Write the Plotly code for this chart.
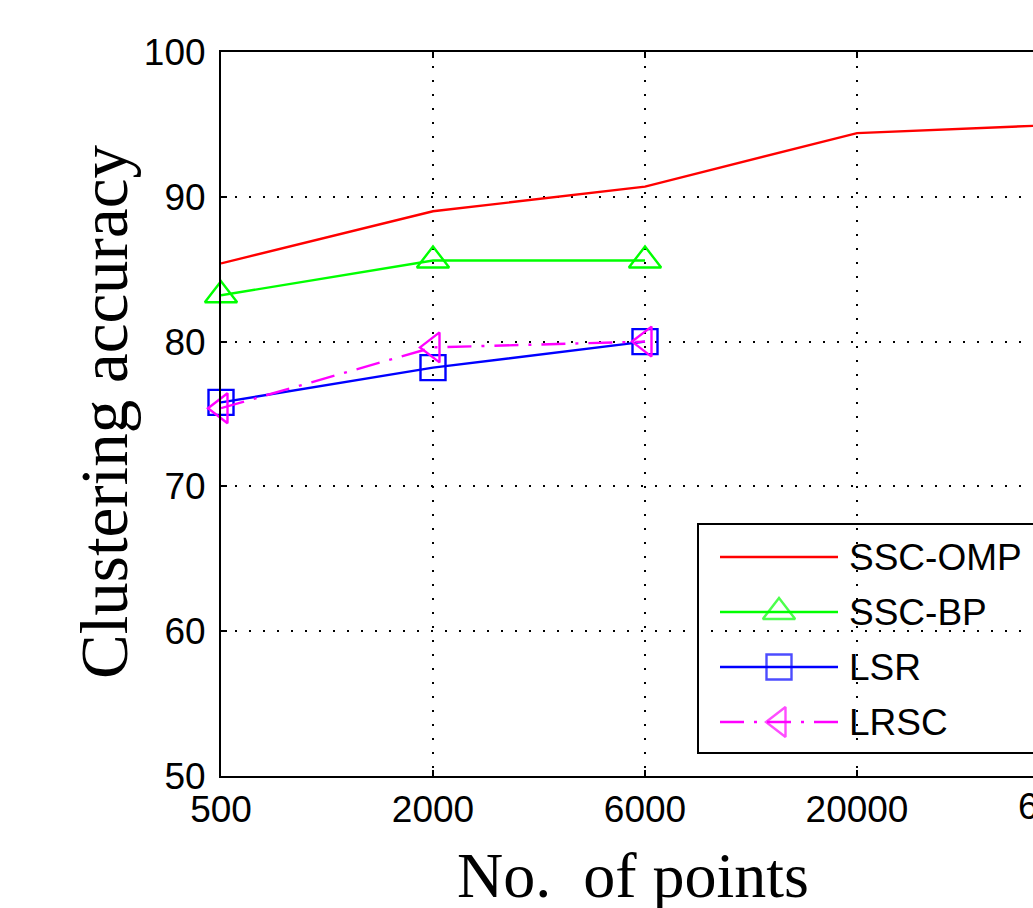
import plotly.graph_objects as go

# ---------------- data ----------------
categories = ["500", "2000", "6000", "20000", "60000"]
ssc_omp = [85.4, 89.0, 90.7, 94.4, 95.0]
ssc_bp = [83.2, 85.6, 85.6]
lsr = [75.8, 78.2, 80.0]
lrsc = [75.4, 79.6, 80.0]
y_ticks = [50, 60, 70, 80, 90, 100]
series_names = ["SSC-OMP", "SSC-BP", "LSR", "LRSC"]
x_title = "No.\u00a0 of points"
y_title = "Clustering accuracy"

# ---------------- layout constants ----------------
W, H = 1033, 908
L, T, B, R = 221, 52, 132, 0
plot_w = W - L - R
plot_h = H - T - B
cat_step_px = 212
x_max = plot_w / cat_step_px

def px_x(px):
    return (px - L) / plot_w

def px_y(py):
    return (H - B - py) / plot_h

TICK_FONT = dict(family="Liberation Sans, Arial, sans-serif", size=37, color="black")
TITLE_FONT = "Liberation Serif, Times New Roman, serif"
LW = 2.4
LRSC_DASH = "24px,10px,3px,10px"

colors = {"SSC-OMP": "#ff0000", "SSC-BP": "#00ff00", "LSR": "#0000ff", "LRSC": "#ff00ff"}
symbols = {"SSC-OMP": None, "SSC-BP": "triangle-up-open", "LSR": "square-open", "LRSC": "triangle-left-open"}
msizes = {"SSC-OMP": 0, "SSC-BP": 28, "LSR": 25, "LRSC": 26}
dashes = {"SSC-OMP": "solid", "SSC-BP": "solid", "LSR": "solid", "LRSC": LRSC_DASH}
values = {"SSC-OMP": ssc_omp, "SSC-BP": ssc_bp, "LSR": lsr, "LRSC": lrsc}

fig = go.Figure()
for name in series_names:
    vals = values[name]
    xs = categories[:len(vals)]
    if symbols[name] is None:
        fig.add_trace(go.Scatter(x=xs, y=vals, mode="lines", name=name,
                                 line=dict(color=colors[name], width=LW),
                                 showlegend=False))
    else:
        fig.add_trace(go.Scatter(x=xs, y=vals, mode="lines+markers", name=name,
                                 line=dict(color=colors[name], width=LW, dash=dashes[name]),
                                 marker=dict(symbol=symbols[name], size=msizes[name],
                                             color=colors[name], line=dict(width=LW, color=colors[name])),
                                 cliponaxis=False, showlegend=False))

# ---------------- hand-drawn MATLAB-style legend ----------------
leg_left, leg_right, leg_top, leg_bottom = 698, 1100, 524, 753
row_y = [557, 612, 667, 722]
sample_x0, sample_x1, marker_x, text_x = 720, 838, 779, 850

shapes = [dict(type="rect", xref="paper", yref="paper",
               x0=px_x(leg_left), x1=px_x(leg_right), y0=px_y(leg_bottom), y1=px_y(leg_top),
               line=dict(color="black", width=2), fillcolor="white", layer="between")]
annotations = []
mk_x, mk_y, mk_sym, mk_col, mk_size = [], [], [], [], []
for name, ry in zip(series_names, row_y):
    shapes.append(dict(type="line", xref="paper", yref="paper",
                       x0=px_x(sample_x0), x1=px_x(sample_x1), y0=px_y(ry), y1=px_y(ry),
                       line=dict(color=colors[name], width=LW, dash=dashes[name]), layer="between"))
    annotations.append(dict(text=name, xref="paper", yref="paper", x=px_x(text_x - 3), y=px_y(ry),
                            xanchor="left", yanchor="middle", showarrow=False, font=TICK_FONT))
    if symbols[name] is not None:
        mk_x.append(px_x(marker_x)); mk_y.append(px_y(ry))
        mk_sym.append(symbols[name]); mk_col.append(colors[name]); mk_size.append(msizes[name])

fig.add_trace(go.Scatter(x=mk_x, y=mk_y, xaxis="x2", yaxis="y2", mode="markers",
                         marker=dict(symbol=mk_sym, size=mk_size, color=mk_col,
                                     line=dict(width=LW, color=mk_col)),
                         cliponaxis=False, showlegend=False, hoverinfo="skip"))

# tick label of the category that lies just past the visible right edge
annotations.append(dict(text=categories[-1], xref="paper", yref="paper",
                        x=(len(categories) - 1) / x_max, y=0, xanchor="center", yanchor="top",
                        yshift=-8, showarrow=False, font=TICK_FONT))

# axis titles
annotations.append(dict(text=x_title, xref="paper", yref="paper", x=px_x(633), y=px_y(875),
                        xanchor="center", yanchor="middle", showarrow=False,
                        font=dict(family=TITLE_FONT, size=64, color="black")))
annotations.append(dict(text=y_title, xref="paper", yref="paper", x=px_x(104), y=px_y(412),
                        xanchor="center", yanchor="middle", showarrow=False, textangle=-90,
                        font=dict(family=TITLE_FONT, size=67, color="black")))

fig.update_layout(
    width=W, height=H,
    margin=dict(l=L, r=R, t=T, b=B),
    paper_bgcolor="white", plot_bgcolor="white",
    showlegend=False,
    shapes=shapes, annotations=annotations,
    xaxis=dict(type="category", categoryorder="array", categoryarray=categories,
               range=[0, x_max], showline=True, linecolor="black", linewidth=2, mirror="ticks",
               ticks="inside", ticklen=6, tickwidth=1.5, tickcolor="black",
               showgrid=True, gridcolor="black", gridwidth=2, griddash="2px,12px",
               tickfont=TICK_FONT, ticklabelstandoff=0, zeroline=False),
    yaxis=dict(range=[50, 100], tickmode="array", tickvals=y_ticks,
               showline=True, linecolor="black", linewidth=2, mirror=False,
               ticks="inside", ticklen=6, tickwidth=1.5, tickcolor="black",
               showgrid=True, gridcolor="black", gridwidth=2, griddash="2px,12px",
               tickfont=TICK_FONT, ticklabelstandoff=6, zeroline=False),
    xaxis2=dict(overlaying="x", range=[0, 1], visible=False, anchor="y2"),
    yaxis2=dict(overlaying="y", range=[0, 1], visible=False, anchor="x2"),
)

fig.write_html("out.html")
